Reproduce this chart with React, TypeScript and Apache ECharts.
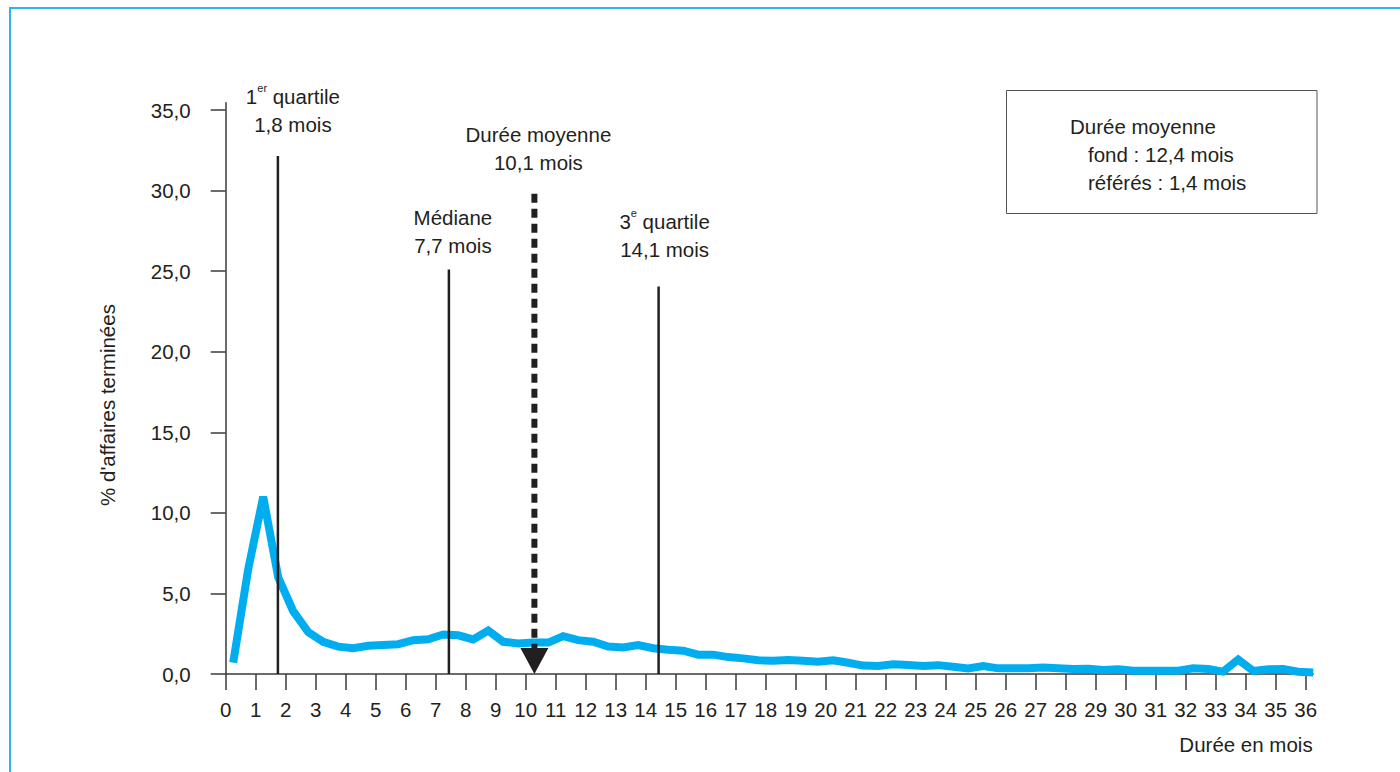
import React, { useEffect, useRef } from "react";
import * as echarts from "echarts";

const FONT = "'Liberation Sans', Arial, Helvetica, sans-serif";
const FONT_SIZE = 20.5;
const TEXT = "#231f20";
const AXIS = "#3a3a3a";
const BLUE = "#00aeef";

// tick labels
const X_TICKS = [0, 1, 2, 3, 4, 5, 6, 7, 8, 9, 10, 11, 12, 13, 14, 15, 16, 17, 18, 19, 20, 21, 22, 23, 24, 25, 26, 27, 28, 29, 30, 31, 32, 33, 34, 35, 36];
const Y_TICKS = [0, 5, 10, 15, 20, 25, 30, 35];

// % of cases terminated, one value per half month
const SHARE = [
  0.7, 6.5, 11.0, 6.0, 3.9, 2.6, 2.0, 1.7, 1.6, 1.75,
  1.8, 1.85, 2.1, 2.15, 2.45, 2.4, 2.15, 2.7, 2.0, 1.9,
  1.95, 1.95, 2.35, 2.1, 2.0, 1.7, 1.65, 1.8, 1.6, 1.5,
  1.45, 1.2, 1.2, 1.05, 0.97, 0.85, 0.82, 0.87, 0.82, 0.76,
  0.85, 0.7, 0.52, 0.5, 0.6, 0.56, 0.5, 0.55, 0.45, 0.35,
  0.5, 0.35, 0.35, 0.35, 0.4, 0.35, 0.31, 0.33, 0.25, 0.29,
  0.2, 0.2, 0.2, 0.2, 0.35, 0.31, 0.15, 0.9, 0.19, 0.29,
  0.31, 0.14, 0.1,
];
// mid-points of each half month
const HALF_MONTHS = SHARE.map((_, i) => 0.25 + i * 0.5);

// reference lines (position on the duration axis, top on the % axis)
const MARK_NAMES = ["q1", "median", "q3"];
const MARK_MONTHS = [1.74, 7.44, 14.43];
const MARK_TOPS = [32.15, 25.1, 24.05];
const MARK_LABELS = [
  "{s|1}{sup|er}{s| quartile}\n{s|1,8 mois}",
  "{s|Médiane}\n{s|7,7 mois}",
  "{s|3}{sup|e}{s| quartile}\n{s|14,1 mois}",
];
const MEAN_MONTH = 10.29;
const MEAN_TOP = 29.8;
const MEAN_ARROW_TOP = 1.6;
const MEAN_LABEL = "{s|Durée moyenne}\n{s|10,1 mois}";

const BOX_LINES = ["Durée moyenne", "fond : 12,4 mois", "référés : 1,4 mois"];
const Y_TITLE = "% d'affaires terminées";
const X_TITLE = "Durée en mois";

const LABEL_OFFSETS: number[][] = [
  [15, -17],
  [4, -10],
  [6, -23],
];
const MEAN_LABEL_OFFSET = [4, -17];

const rich = {
  s: { fontSize: FONT_SIZE, fontFamily: FONT, color: TEXT, lineHeight: 28, align: "center" },
  sup: { fontSize: 11, fontFamily: FONT, color: TEXT, lineHeight: 23, verticalAlign: "top", align: "center" },
};

export default function App() {
  const ref = useRef<HTMLDivElement>(null);

  useEffect(() => {
    document.body.style.margin = "0";
    if (!ref.current) return;
    const chart = echarts.init(ref.current, undefined, { renderer: "svg" });

    const markSeries = MARK_NAMES.map((name, i) => ({
      name,
      type: "line",
      data: [
        [MARK_MONTHS[i], 0],
        [MARK_MONTHS[i], MARK_TOPS[i]],
      ],
      symbol: "none",
      silent: true,
      z: 3,
      lineStyle: { color: TEXT, width: 2.5 },
      markPoint: {
        symbol: "circle",
        symbolSize: 0,
        silent: true,
        data: [{ coord: [MARK_MONTHS[i], MARK_TOPS[i]] }],
        label: {
          show: true,
          position: "top",
          distance: 0,
          offset: LABEL_OFFSETS[i],
          formatter: MARK_LABELS[i],
          rich,
        },
      },
    }));

    const option: any = {
      animation: false,
      backgroundColor: "#ffffff",
      textStyle: { fontFamily: FONT },
      grid: {
        left: 225.7,
        right: 86.8,
        top: 102.8,
        bottom: 98,
        containLabel: false,
        outerBoundsMode: "none",
      },
      xAxis: {
        type: "value",
        min: 0,
        max: 36.25,
        axisLine: { show: true, lineStyle: { color: AXIS, width: 1.5 } },
        axisTick: {
          show: true,
          customValues: X_TICKS,
          length: 16,
          lineStyle: { color: AXIS, width: 1.5 },
        },
        axisLabel: {
          customValues: X_TICKS,
          margin: 25,
          fontSize: FONT_SIZE,
          fontFamily: FONT,
          color: TEXT,
        },
        splitLine: { show: false },
      },
      yAxis: {
        type: "value",
        min: 0,
        max: 35.45,
        axisLine: { show: true, lineStyle: { color: AXIS, width: 1.5 } },
        axisTick: {
          show: true,
          customValues: Y_TICKS,
          length: 15,
          lineStyle: { color: AXIS, width: 1.5 },
        },
        axisLabel: {
          customValues: Y_TICKS,
          margin: 35,
          fontSize: FONT_SIZE,
          fontFamily: FONT,
          color: TEXT,
          formatter: (v: number) => v.toFixed(1).replace(".", ","),
        },
        splitLine: { show: false },
      },
      series: [
        {
          name: "share",
          type: "line",
          data: HALF_MONTHS.map((x, i) => [x, SHARE[i]]),
          symbol: "none",
          clip: false,
          z: 2,
          lineStyle: { color: BLUE, width: 8, join: "miter", cap: "butt" },
        },
        ...markSeries,
        {
          name: "mean",
          type: "line",
          data: [
            [MEAN_MONTH, MEAN_TOP],
            [MEAN_MONTH, MEAN_ARROW_TOP],
          ],
          symbol: "none",
          silent: true,
          z: 4,
          lineStyle: { color: TEXT, width: 6, type: [9, 6], cap: "butt" },
          markPoint: {
            silent: true,
            data: [
              {
                coord: [MEAN_MONTH, 0],
                symbol: "path://M0 0L28 0L14 26Z",
                symbolSize: [28, 26],
                symbolOffset: [0, -13],
                itemStyle: { color: TEXT },
                label: { show: false },
              },
              {
                coord: [MEAN_MONTH, MEAN_TOP],
                symbol: "circle",
                symbolSize: 0,
                label: {
                  show: true,
                  position: "top",
                  distance: 0,
                  offset: MEAN_LABEL_OFFSET,
                  formatter: MEAN_LABEL,
                  rich,
                },
              },
            ],
          },
        },
      ],
      graphic: [
        {
          type: "rect",
          silent: true,
          shape: { x: 10, y: 8, width: 1420, height: 800 },
          style: { fill: "none", stroke: "#2bb5ee", lineWidth: 2 },
        },
        {
          type: "rect",
          silent: true,
          shape: { x: 1006.5, y: 90.5, width: 310.5, height: 123 },
          style: { fill: "#ffffff", stroke: "#555555", lineWidth: 1 },
        },
        ...BOX_LINES.map((t, i) => ({
          type: "text",
          silent: true,
          x: i === 0 ? 1070 : 1088,
          y: 126 + i * 28,
          style: {
            text: t,
            fontSize: FONT_SIZE,
            fontFamily: FONT,
            fill: TEXT,
            align: "left",
            verticalAlign: "middle",
          },
        })),
        {
          type: "text",
          silent: true,
          x: 107,
          y: 405,
          rotation: Math.PI / 2,
          style: {
            text: Y_TITLE,
            fontSize: FONT_SIZE,
            fontFamily: FONT,
            fill: TEXT,
            align: "center",
            verticalAlign: "middle",
          },
        },
        {
          type: "text",
          silent: true,
          x: 1246,
          y: 744,
          style: {
            text: X_TITLE,
            fontSize: FONT_SIZE,
            fontFamily: FONT,
            fill: TEXT,
            align: "center",
            verticalAlign: "middle",
          },
        },
      ],
    };

    chart.setOption(option);
    return () => chart.dispose();
  }, []);

  return <div ref={ref} style={{ width: 1400, height: 772 }} />;
}
